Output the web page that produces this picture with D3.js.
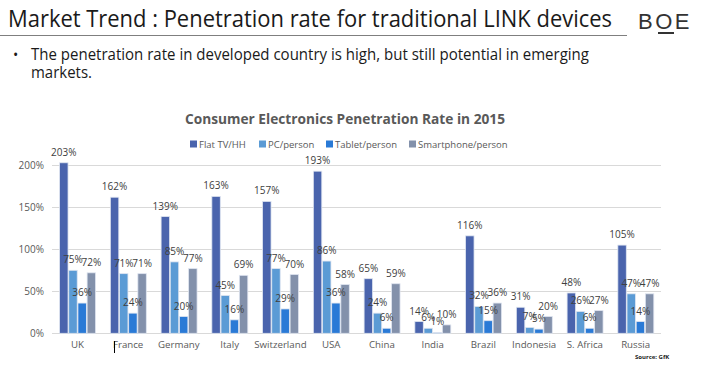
<!DOCTYPE html>
<html><head><meta charset="utf-8">
<script src="https://cdn.jsdelivr.net/npm/d3@7"></script>
<style>html,body{margin:0;padding:0;background:#fff;} svg{display:block;}</style>
</head><body>
<svg id="c" width="704" height="365"></svg>
<script>
const categories = ["UK","France","Germany","Italy","Switzerland","USA","China","India","Brazil","Indonesia","S. Africa","Russia"];
const seriesNames = ["Flat TV/HH","PC/person","Tablet/person","Smartphone/person"];
const flatTV     = [203,162,139,163,157,193,65,14,116,31,48,105];
const pcPerson   = [75,71,85,45,77,86,24,6,32,7,26,47];
const tablet     = [36,24,20,16,29,36,6,1,15,5,6,14];
const smartphone = [72,71,77,69,70,58,59,10,36,20,27,47];
const yTicks = [0,50,100,150,200];
const colors = ["#4a64ad","#5b9bd5","#2a7ad6","#8391ab"];
const seriesValues = [flatTV,pcPerson,tablet,smartphone];

const svg = d3.select("#c");
const font = "'Open Sans', 'Noto Sans', sans-serif";

// Header
svg.append("text").attr("x",8).attr("y",27).attr("font-family",font).attr("font-size",23)
  .attr("fill","#1a1a1a").attr("textLength",604).attr("lengthAdjust","spacingAndGlyphs")
  .text("Market Trend : Penetration rate for traditional LINK devices");
svg.append("line").attr("x1",0).attr("x2",627).attr("y1",35.5).attr("y2",35.5).attr("stroke","#7f7f7f").attr("stroke-width",1);
const logo = svg.append("g").attr("font-family","'Liberation Sans', Arial, sans-serif").attr("font-size",22).attr("fill","#333");
logo.append("text").attr("x",638).attr("y",29).attr("letter-spacing",2.5).text("BOE");
logo.append("rect").attr("x",658).attr("y",32).attr("width",16).attr("height",2).attr("fill","#333");

svg.append("text").attr("x",13).attr("y",60).attr("font-family",font).attr("font-size",14).attr("fill","#1a1a1a").text("•");
svg.append("text").attr("x",31).attr("y",60).attr("font-family",font).attr("font-size",15.5).attr("fill","#1a1a1a")
  .attr("textLength",558).attr("lengthAdjust","spacingAndGlyphs")
  .text("The penetration rate in developed country is high, but still potential in emerging");
svg.append("text").attr("x",31).attr("y",78).attr("font-family",font).attr("font-size",15.5).attr("fill","#1a1a1a")
  .attr("textLength",61).attr("lengthAdjust","spacingAndGlyphs").text("markets.");

// Chart title
svg.append("text").attr("x",345).attr("y",124).attr("text-anchor","middle").attr("font-family",font)
  .attr("font-size",15).attr("font-weight","bold").attr("fill","#595959")
  .attr("textLength",320).attr("lengthAdjust","spacingAndGlyphs")
  .text("Consumer Electronics Penetration Rate in 2015");

// Legend
const legendX = [190,259,326,409];
const lg = svg.append("g").attr("font-family",font).attr("font-size",9.5).attr("fill","#595959");
seriesNames.forEach((s,i)=>{
  lg.append("rect").attr("x",legendX[i]).attr("y",140.5).attr("width",7).attr("height",7).attr("fill",colors[i]);
  lg.append("text").attr("x",legendX[i]+9).attr("y",147.5).text(s);
});

// Scales
const x0 = d3.scaleBand().domain(categories).range([52,661]).paddingInner(0).paddingOuter(0);
const x1 = d3.scaleBand().domain(seriesNames).range([7.6, x0.bandwidth()-7.2]).paddingInner(0.08);
const y = d3.scaleLinear().domain([0,200]).range([333.3,165.3]);

// Gridlines
svg.append("g").selectAll("line").data(yTicks).join("line")
  .attr("x1",52).attr("x2",661).attr("y1",d=>Math.round(y(d))+0.5).attr("y2",d=>Math.round(y(d))+0.5)
  .attr("stroke","#d9d9d9").attr("stroke-width",1);

// Y axis labels
const yAxis = d3.axisLeft(y).tickValues(yTicks).tickFormat(d=>d+"%").tickSize(0).tickPadding(0);
const ya = svg.append("g").attr("transform","translate(44,0)").call(yAxis);
ya.select(".domain").remove();
ya.selectAll("text").attr("font-family",font).attr("font-size",10).attr("fill","#595959");

// X axis labels
const xAxis = d3.axisBottom(x0).tickSize(0).tickPadding(0);
const xa = svg.append("g").attr("transform","translate(0,341)").call(xAxis);
xa.select(".domain").remove();
xa.selectAll("text").attr("font-family",font).attr("font-size",9.7).attr("fill","#595959");

// Bars
const data = [];
categories.forEach((c,ci)=>{
  seriesNames.forEach((s,si)=>{ data.push({c,s,si,v:seriesValues[si][ci]}); });
});
const bars = svg.append("g");
bars.selectAll("rect").data(data).join("rect")
  .attr("x",d=>x0(d.c)+x1(d.s))
  .attr("width",x1.bandwidth())
  .attr("y",d=>y(d.v))
  .attr("height",d=>y(0)-y(d.v))
  .attr("fill",d=>colors[d.si])
  .attr("stroke","#dfe5f0").attr("stroke-width",0.8);

// Value labels
svg.append("g").selectAll("text").data(data).join("text")
  .attr("x",d=>x0(d.c)+x1(d.s)+x1.bandwidth()/2)
  .attr("y",d=>y(d.v)-7)
  .attr("text-anchor","middle")
  .attr("font-family",font).attr("font-size",10).attr("fill","#404040")
  .text(d=>d.v+"%");

// cursor artifact near France
svg.append("line").attr("x1",114.5).attr("x2",114.5).attr("y1",341).attr("y2",353).attr("stroke","#000").attr("stroke-width",1);

// Source
svg.append("text").attr("x",635).attr("y",359).attr("font-family",font).attr("font-size",6).attr("font-weight","bold")
  .attr("fill","#222").text("Source: GfK");
</script>
</body></html>
